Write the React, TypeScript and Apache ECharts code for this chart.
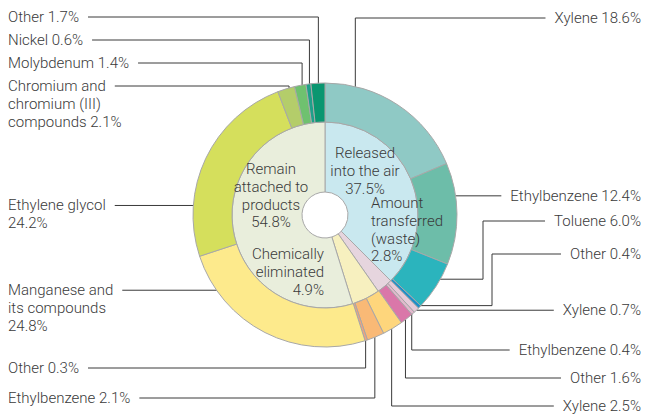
import React, { useEffect, useRef } from "react";
import * as echarts from "echarts";

// ---- data ----
const innerNames = ["Released\ninto the air", "Amount\ntransferred\n(waste)", "Chemically\neliminated", "Remain\nattached to\nproducts"];
const innerValues = [37.5, 2.8, 4.9, 54.8];

const outerNames = [
  "Xylene", "Ethylbenzene", "Toluene", "Other",
  "Xylene", "Ethylbenzene", "Other",
  "Xylene", "Ethylbenzene", "Other",
  "Manganese and\nits compounds", "Ethylene glycol", "Chromium and\nchromium (III)\ncompounds", "Molybdenum", "Nickel", "Other",
];
const outerValues = [18.6, 12.4, 6.0, 0.4, 0.7, 0.4, 1.6, 2.5, 2.1, 0.3, 24.8, 24.2, 2.1, 1.4, 0.6, 1.7];

// ---- styles ----
const innerColors = ["#c9e8ef", "#e6d5de", "#f7f0bf", "#e9eedc"];
const outerColors = [
  "#8fc9c5", "#6dbda9", "#2bb4bd", "#1b8fc9",
  "#e6cbd9", "#e2b9cd", "#da77a9",
  "#fed67c", "#f9b976", "#f3a27e",
  "#fdea8c", "#d5df5c", "#b4cd6a", "#6fc16f", "#1ea08a", "#0a9670",
];

const CX = 325;
const CY = 215;
const FONT = "Roboto, 'Liberation Sans', sans-serif";
const FW = 300;
const FS = 15;
const LH = 17.8;
const TEXT_COLOR = "#3a3a3a";
const LINE_COLOR = "#3a3a3a";

// label layout (positions only)
type OL = { side: "left" | "right"; route: "v" | "h" | "hvh"; t: number; r: number; y?: number; elbow?: number; newline?: boolean };
const outerLabelLayout: OL[] = [
  { side: "right", route: "v", t: 0.22, r: 119, y: 18 },
  { side: "right", route: "h", t: 0.31, r: 122 },
  { side: "right", route: "hvh", t: 0.42, r: 125, elbow: 483, y: 221 },
  { side: "right", route: "hvh", t: 0.5, r: 130, elbow: 492, y: 254 },
  { side: "right", route: "h", t: 0.5, r: 132 },
  { side: "right", route: "v", t: 0.5, r: 130, y: 350 },
  { side: "right", route: "v", t: 0.5, r: 130, y: 378 },
  { side: "right", route: "v", t: 0.5, r: 130, y: 406 },
  { side: "left", route: "v", t: 0.5, r: 130, y: 398 },
  { side: "left", route: "v", t: 0.5, r: 130, y: 368 },
  { side: "left", route: "h", t: 0.79, r: 125, newline: true },
  { side: "left", route: "h", t: 0.26, r: 122, newline: true },
  { side: "left", route: "v", t: 0.5, r: 122, y: 86 },
  { side: "left", route: "v", t: 0.5, r: 122, y: 63 },
  { side: "left", route: "v", t: 0.5, r: 124, y: 40 },
  { side: "left", route: "v", t: 0.5, r: 124, y: 17 },
];

type IL = { x: number; y: number; align: "left" | "center" | "right"; line?: { t: number; r: number } };
const innerLabelLayout: IL[] = [
  { x: 365, y: 153, align: "center" },
  { x: 371, y: 203, align: "left", line: { t: 0.4, r: 50 } },
  { x: 324, y: 254, align: "right", line: { t: 0.7, r: 52 } },
  { x: 271, y: 169, align: "center" },
];

const RIGHT_X = 641;
const LEFT_X = 8;
const GAP = 9;

function segAngle(values: number[], i: number, t: number) {
  const total = values.reduce((a, b) => a + b, 0);
  let s = 0;
  for (let j = 0; j < i; j++) s += values[j];
  return ((s + t * values[i]) / total) * 360;
}
function polar(deg: number, r: number): number[] {
  const a = (deg * Math.PI) / 180;
  return [CX + r * Math.sin(a), CY - r * Math.cos(a)];
}

let measureCtx: CanvasRenderingContext2D | null = null;
function textWidth(s: string) {
  if (!measureCtx) {
    const c = document.createElement("canvas");
    measureCtx = c.getContext("2d");
  }
  if (!measureCtx) return s.length * 7;
  measureCtx.font = `${FW} ${FS}px ${FONT}`;
  return measureCtx.measureText(s).width;
}

function outerLabelText(i: number) {
  const v = outerValues[i].toFixed(1) + "%";
  return outerNames[i] + (outerLabelLayout[i].newline ? "\n" : " ") + v;
}

export default function App() {
  const ref = useRef<HTMLDivElement>(null);
  useEffect(() => {
    if (!ref.current) return;
    const chart = echarts.init(ref.current, undefined, { renderer: "svg" });

    const outerLayoutFn = (params: any) => {
      const i = params.dataIndex;
      const L = outerLabelLayout[i];
      const ang = segAngle(outerValues, i, L.t);
      const a = polar(ang, L.r);
      const firstLine = outerLabelText(i).split("\n")[0];
      const w = textWidth(firstLine);
      const firstY = L.route === "h" ? a[1] : (L.y as number);
      const endX = L.side === "right" ? RIGHT_X - w - GAP : LEFT_X + w + GAP;
      let pts: number[][];
      if (L.route === "v") pts = [a, [a[0], firstY], [endX, firstY]];
      else if (L.route === "h") pts = [a, [endX, a[1]]];
      else pts = [a, [L.elbow as number, a[1]], [L.elbow as number, firstY], [endX, firstY]];
      return {
        x: L.side === "right" ? RIGHT_X : LEFT_X,
        y: firstY - LH / 2,
        align: L.side,
        verticalAlign: "top",
        labelLinePoints: pts,
      };
    };

    const innerLayoutFn = (params: any) => {
      const i = params.dataIndex;
      const L = innerLabelLayout[i];
      const out: any = { x: L.x, y: L.y - LH / 2, align: L.align, verticalAlign: "top" };
      if (L.line) {
        const a = polar(segAngle(innerValues, i, L.line.t), L.line.r);
        if (L.align === "left") {
          out.labelLinePoints = [a, [a[0], L.y], [L.x - 2, L.y]];
        } else {
          out.labelLinePoints = [[L.x + 3, L.y], [a[0], L.y], a];
        }
      }
      return out;
    };

    const labelBase = {
      show: true,
      position: "outside",
      color: TEXT_COLOR,
      fontSize: FS,
      fontWeight: FW,
      fontFamily: FONT,
      lineHeight: LH,
    };

    chart.setOption({
      animation: false,
      backgroundColor: "#ffffff",
      series: [
        {
          type: "pie",
          silent: true,
          center: [CX, CY],
          radius: [23, 93],
          startAngle: 90,
          clockwise: true,
          avoidLabelOverlap: false,
          itemStyle: { borderColor: "#a8a8a8", borderWidth: 1 },
          label: {
            ...labelBase,
            formatter: (p: any) => innerNames[p.dataIndex] + "\n" + innerValues[p.dataIndex].toFixed(1) + "%",
          },
          labelLine: { show: true, lineStyle: { color: LINE_COLOR, width: 1 } },
          labelLayout: innerLayoutFn,
          data: innerValues.map((v, i) => ({
            name: innerNames[i],
            value: v,
            itemStyle: { color: innerColors[i] },
            labelLine: { show: !!innerLabelLayout[i].line },
          })),
        },
        {
          type: "pie",
          silent: true,
          center: [CX, CY],
          radius: [93, 132],
          startAngle: 90,
          clockwise: true,
          avoidLabelOverlap: false,
          itemStyle: { borderColor: "#a8a8a8", borderWidth: 1 },
          label: {
            ...labelBase,
            formatter: (p: any) => outerLabelText(p.dataIndex),
          },
          labelLine: { show: true, lineStyle: { color: LINE_COLOR, width: 1 } },
          labelLayout: outerLayoutFn,
          data: outerValues.map((v, i) => ({
            name: outerNames[i],
            value: v,
            itemStyle: { color: outerColors[i] },
          })),
        },
      ],
    });
    return () => chart.dispose();
  }, []);
  return (
    <div
      ref={ref}
      style={{ position: "absolute", left: 0, top: 0, width: 646, height: 415, background: "#fff" }}
    />
  );
}
